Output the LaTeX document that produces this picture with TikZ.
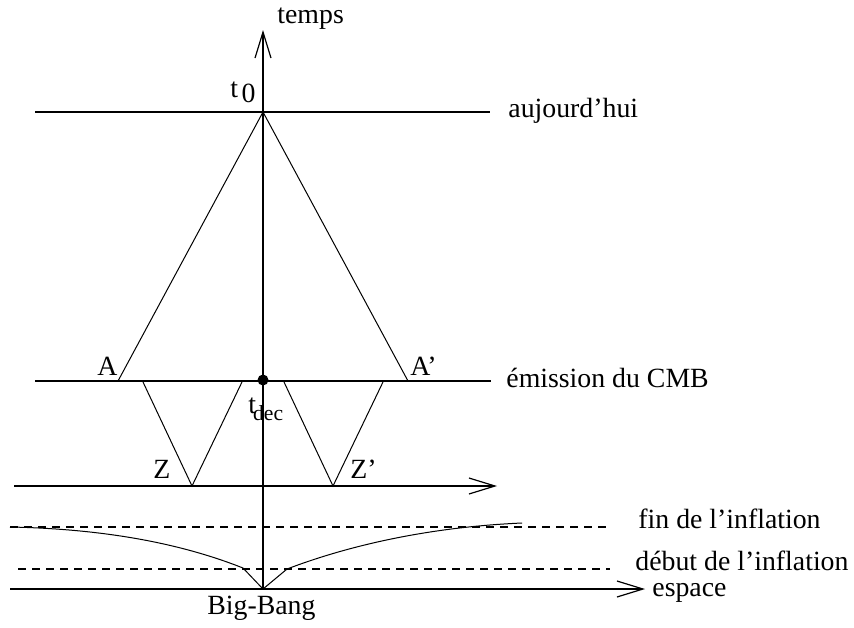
\documentclass[tikz,border=0pt]{standalone}
\usepackage{fontspec}
\setmainfont{Liberation Serif}
\usepackage{tikz}
\usetikzlibrary{arrows.meta}

\begin{document}
\begin{tikzpicture}[x=.5pt,y=-.5pt,font=\fontsize{13.9}{16}\selectfont,
axe/.style={-{Straight Barb[length=13pt,width=8pt,line width=.6pt]},line width=.8pt},
ligne/.style={line width=.8pt},
rayon/.style={line width=.5pt},
tiret/.style={line width=.6pt,dash pattern=on 4pt off 3pt},
lbl/.style={inner sep=0pt,anchor=base west}]

\useasboundingbox (0,0) rectangle (854,627);
% points
\coordinate (bb) at (263,589);
\coordinate (top) at (263,30);
\coordinate (t0) at (263,112);
\coordinate (tdec) at (263,380);
\coordinate (a) at (118,381);
\coordinate (ap) at (408,381);
\coordinate (z) at (192,486);
\coordinate (zp) at (333,486);

% horizontales
\draw[ligne](35,112)--(490,112);
\draw[ligne](35,381)--(491,381);
\draw[axe](14,486)--(497,486);
\draw[axe](10,589)--(645,589);
\draw[tiret](10,527)--(610,527);
\draw[tiret](18,569)--(610,569);

% axe du temps
\draw[axe](bb)--(top);
\node (temps) [lbl] at (277,23){temps};
\node (lt0) [lbl] at (230,97){t\kern1.8pt\raisebox{-2.5pt}{0}};
\node (auj) [lbl] at (508,117){aujourd'hui};
\node (cmb) [lbl] at (506,387){émission du CMB};

% cone de lumiere
\draw[rayon](t0)--(a);
\draw[rayon](t0)--(ap);
\node (la) [lbl] at (97,375){A};
\node (lap) [lbl] at (410,375){A'};
\fill (tdec) circle (5.5);
\node (ltdec) [lbl] at (248,413){t\kern-1.5pt\raisebox{-3.5pt}{\fontsize{10.8}{12}\selectfont dec}};

% petits cones
\draw[rayon](143,382)--(z)--(242,382);
\draw[rayon](284,382)--(zp)--(383,382);
\node (lz) [lbl] at (153,478){Z};
\node (lzp) [lbl] at (350,478){Z'};

% inflation
\draw[rayon](10,527) .. controls (110,529) and (185,545) .. (243,568)--(bb);
\draw[rayon](bb)--(287,569) .. controls (350,545) and (430,527) .. (522,523);
\node (fin) [lbl] at (638,528){fin de l'inflation};
\node (deb) [lbl] at (635,570){début de l'inflation};
\node (esp) [lbl] at (652,596){espace};
\node (bang) [lbl] at (207,614){Big-Bang};
\end{tikzpicture}
\end{document}
